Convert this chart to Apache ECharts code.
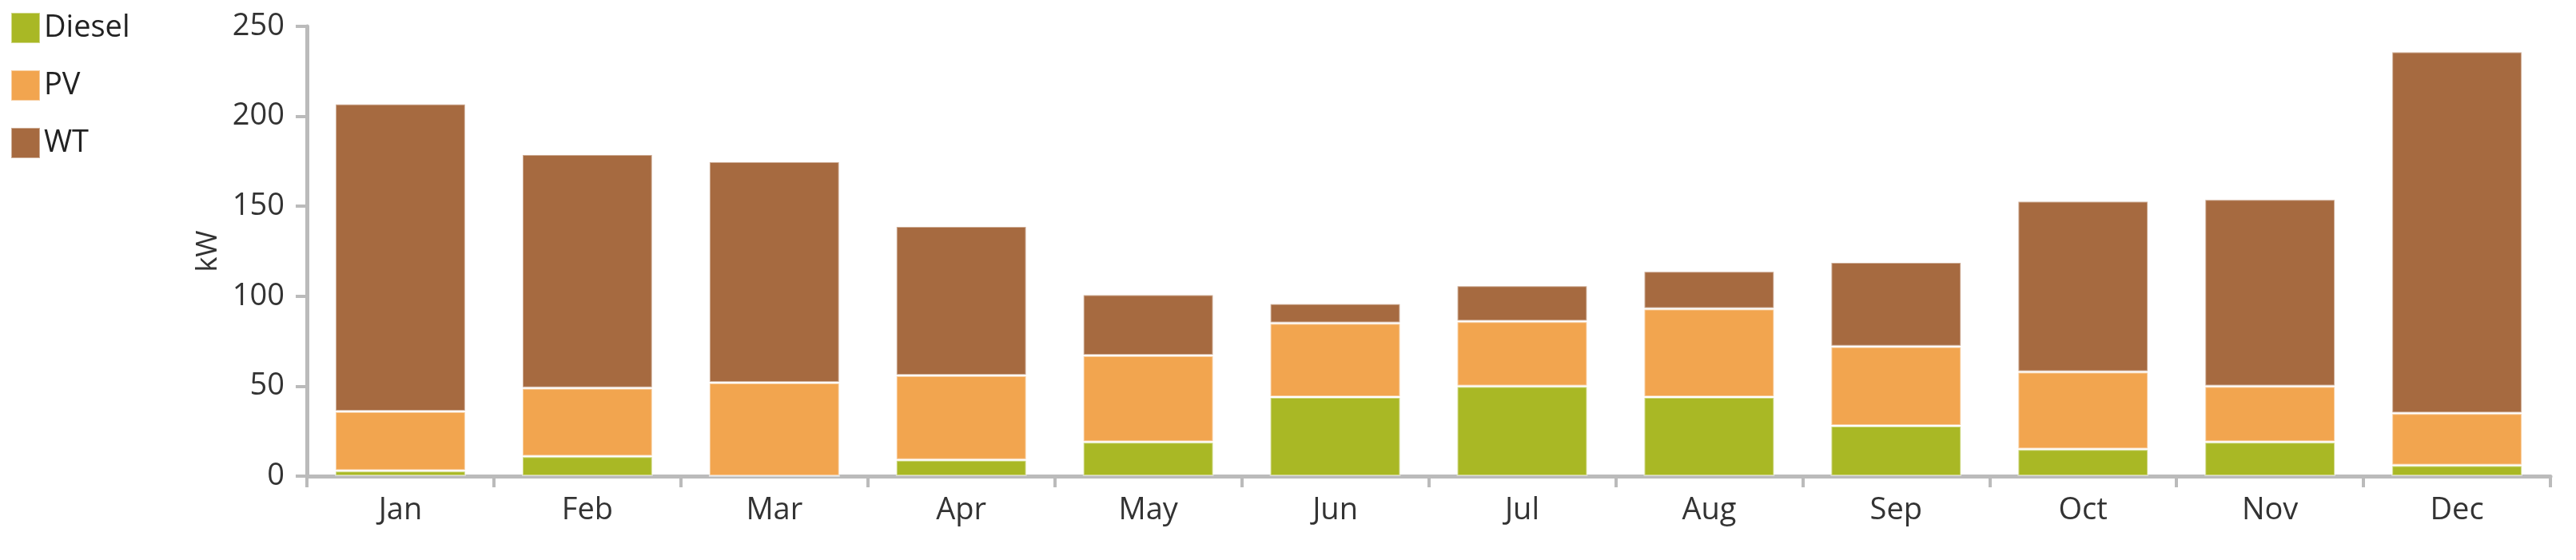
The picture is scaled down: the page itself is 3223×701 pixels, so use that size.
<!DOCTYPE html>
<html>
<head>
<meta charset="utf-8">
<script src="https://cdn.jsdelivr.net/npm/echarts@6/dist/echarts.min.js"></script>
<style>html,body{margin:0;padding:0;background:#fff}#chart{width:3223px;height:701px}</style>
</head>
<body>
<div id="chart"></div>
<script>
const months = ["Jan", "Feb", "Mar", "Apr", "May", "Jun", "Jul", "Aug", "Sep", "Oct", "Nov", "Dec"];
const diesel = [3, 11, 0, 9, 19, 44, 50, 44, 28, 15, 19, 6];
const pv = [33, 38, 52, 47, 48, 41, 36, 49, 44, 43, 31, 29];
const wt = [171, 130, 123, 83, 34, 11, 20, 21, 47, 95, 104, 201];

const font = "Open Sans";
const chart = echarts.init(document.getElementById("chart"));

const bar = (name, data, color) => ({
  name, type: "bar", stack: "total", data, barWidth: "70%",
  itemStyle: { color, borderColor: "rgba(255,255,255,0.45)", borderWidth: 2 }
});

chart.setOption({
  animation: false,
  textStyle: { fontFamily: font },
  legend: {
    orient: "vertical", left: 8, top: 10, itemGap: 32,
    itemWidth: 36, itemHeight: 38, icon: "rect",
    textStyle: { fontSize: 38, color: "#222", fontFamily: font }
  },
  grid: { left: 384, right: 32, top: 33, bottom: 105 },
  xAxis: {
    type: "category", data: months,
    axisLine: { lineStyle: { color: "#bbb", width: 5 } },
    axisTick: { show: true, length: 14, lineStyle: { color: "#bbb", width: 4 } },
    axisLabel: { fontSize: 38, color: "#333", margin: 24 }
  },
  yAxis: {
    type: "value", min: 0, max: 250, interval: 50,
    name: "kW", nameLocation: "middle", nameGap: 105,
    nameTextStyle: { fontSize: 36, color: "#333" },
    axisLine: { show: true, lineStyle: { color: "#bbb", width: 5 } },
    axisTick: { show: true, length: 14, lineStyle: { color: "#bbb", width: 4 } },
    splitLine: { show: false },
    axisLabel: { fontSize: 38, color: "#333", margin: 28 }
  },
  series: [
    bar("Diesel", diesel, "#a9b825"),
    bar("PV", pv, "#f2a54f"),
    bar("WT", wt, "#a66a40")
  ]
});
</script>
</body>
</html>
